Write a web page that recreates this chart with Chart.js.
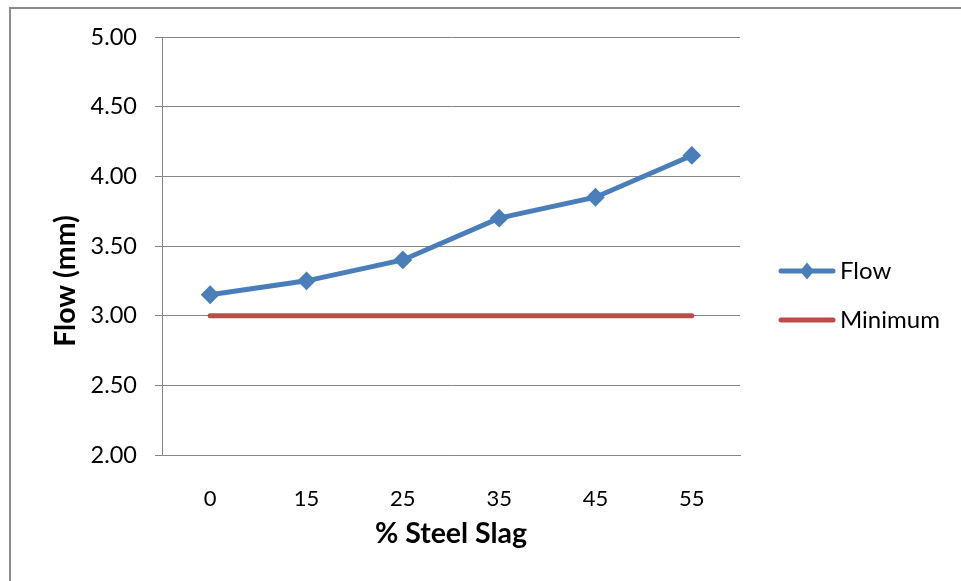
<!DOCTYPE html>
<html>
<head>
<meta charset="utf-8">
<script src="https://cdn.jsdelivr.net/npm/chart.js@4"></script>
<style>
  html, body { margin: 0; padding: 0; background: #fff; }
  canvas { display: block; }
</style>
</head>
<body>
<canvas id="c" width="961" height="581"></canvas>
<script>
// Categories and series
const slagPercent = ['0', '15', '25', '35', '45', '55'];
const flowValues = [3.15, 3.25, 3.40, 3.70, 3.85, 4.15];
const minimumValues = [3.00, 3.00, 3.00, 3.00, 3.00, 3.00];
const yTicks = [2.00, 2.50, 3.00, 3.50, 4.00, 4.50, 5.00];

const FONT = 'Lato, "Open Sans", sans-serif';
const GRID = '#868686';

// Outer frame around the whole chart
const framePlugin = {
  id: 'frame',
  beforeDraw(chart) {
    const ctx = chart.ctx;
    ctx.save();
    ctx.strokeStyle = '#8c8c8c';
    ctx.lineWidth = 2;
    ctx.strokeRect(10, 8, 2000, 2000);
    ctx.restore();
  }
};

// Axis titles and a legend laid out at the right side
const annotatePlugin = {
  id: 'annotate',
  afterDraw(chart) {
    const ctx = chart.ctx;
    const area = chart.chartArea;
    ctx.save();
    ctx.fillStyle = '#000';

    // x axis title
    ctx.font = 'bold 28.5px ' + FONT;
    ctx.textAlign = 'center';
    ctx.textBaseline = 'alphabetic';
    ctx.fillText('% Steel Slag', (area.left + area.right) / 2, 543);

    // y axis title
    ctx.translate(75, 281);
    ctx.rotate(-Math.PI / 2);
    ctx.fillText('Flow (mm)', 0, 0);
    ctx.setTransform(1, 0, 0, 1, 0, 0);

    // legend
    const rows = [271, 320];
    chart.data.datasets.forEach((ds, i) => {
      const y = rows[i];
      ctx.strokeStyle = ds.borderColor;
      ctx.lineWidth = 5;
      ctx.lineCap = 'round';
      ctx.beginPath();
      ctx.moveTo(781, y);
      ctx.lineTo(833, y);
      ctx.stroke();
      if (ds.pointRadius > 0) {
        ctx.fillStyle = ds.borderColor;
        ctx.beginPath();
        ctx.moveTo(807, y - 8.5);
        ctx.lineTo(814, y);
        ctx.lineTo(807, y + 8.5);
        ctx.lineTo(800, y);
        ctx.closePath();
        ctx.fill();
      }
      ctx.fillStyle = '#000';
      ctx.font = '24px ' + FONT;
      ctx.textAlign = 'left';
      ctx.textBaseline = 'middle';
      ctx.fillText(ds.label, 840, y);
    });
    ctx.restore();
  }
};

new Chart(document.getElementById('c'), {
  type: 'line',
  data: {
    labels: slagPercent,
    datasets: [
      {
        label: 'Flow',
        data: flowValues,
        borderColor: '#4A7EBB',
        backgroundColor: '#4A7EBB',
        borderWidth: 5,
        pointStyle: 'rectRot',
        pointRadius: 8,
        pointBorderWidth: 2,
        pointBackgroundColor: '#4A7EBB',
        pointBorderColor: '#4A7EBB',
        tension: 0,
        fill: false
      },
      {
        label: 'Minimum',
        data: minimumValues,
        borderColor: '#BE4B48',
        backgroundColor: '#BE4B48',
        borderWidth: 5,
        borderCapStyle: 'round',
        pointRadius: 0,
        tension: 0,
        fill: false
      }
    ]
  },
  options: {
    responsive: false,
    animation: false,
    devicePixelRatio: 1,
    layout: { padding: { left: 0, top: 37, right: 221, bottom: 0 } },
    plugins: {
      legend: { display: false },
      tooltip: { enabled: false },
      title: { display: false }
    },
    scales: {
      x: {
        type: 'category',
        offset: true,
        grid: { display: false },
        border: { display: true, color: GRID, width: 1 },
        ticks: {
          color: '#000',
          font: { family: FONT, size: 22 },
          padding: 23,
          maxRotation: 0
        },
        afterFit(scale) { scale.height = 126; }
      },
      y: {
        min: yTicks[0],
        max: yTicks[yTicks.length - 1],
        afterBuildTicks(scale) { scale.ticks = yTicks.map(v => ({ value: v })); },
        grid: {
          color: GRID,
          lineWidth: 1,
          drawTicks: true,
          tickLength: 7,
          tickColor: GRID
        },
        border: { display: true, color: GRID, width: 1 },
        ticks: {
          color: '#000',
          font: { family: FONT, size: 23.5 },
          padding: 18,
          callback: (v) => Number(v).toFixed(2)
        },
        afterFit(scale) { scale.width = 162; }
      }
    }
  },
  plugins: [framePlugin, annotatePlugin]
});
</script>
</body>
</html>
